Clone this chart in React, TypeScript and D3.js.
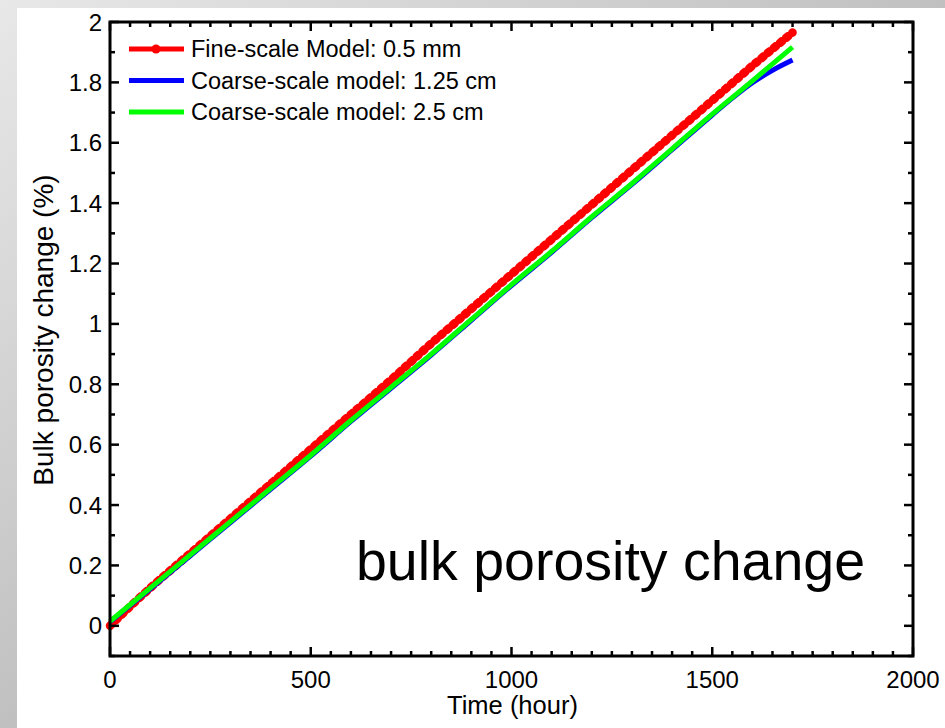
import React from 'react';
import * as d3 from 'd3';

// values
const hours = [0, 100, 200, 300, 400, 500, 600, 700, 800, 900, 1000, 1100, 1200, 1300, 1400, 1500, 1600, 1700];
const fineScale = [0, 0.125, 0.24, 0.355, 0.47, 0.585, 0.7, 0.815, 0.935, 1.05, 1.165, 1.28, 1.395, 1.51, 1.625, 1.74, 1.855, 1.965];
const coarse25 = [0.015, 0.125, 0.235, 0.345, 0.455, 0.565, 0.68, 0.79, 0.9, 1.015, 1.13, 1.24, 1.355, 1.465, 1.58, 1.695, 1.805, 1.917];
const coarse125Hours = [0, 100, 200, 300, 400, 500, 600, 700, 800, 900, 1000, 1100, 1200, 1300, 1400, 1500, 1550, 1600, 1650, 1700];
const coarse125 = [0.013, 0.122, 0.232, 0.342, 0.452, 0.562, 0.677, 0.787, 0.897, 1.012, 1.127, 1.237, 1.352, 1.462, 1.577, 1.692, 1.748, 1.799, 1.84, 1.874];

const legendLabels = ['Fine-scale Model: 0.5 mm', 'Coarse-scale model: 1.25 cm', 'Coarse-scale model: 2.5 cm'];
const legendColors = ['#ff0000', '#0000ff', '#00ff00'];

const xTicks = [0, 500, 1000, 1500, 2000];
const yTicks = [0, 0.2, 0.4, 0.6, 0.8, 1, 1.2, 1.4, 1.6, 1.8, 2];
const yTickLabels = ['0', '0.2', '0.4', '0.6', '0.8', '1', '1.2', '1.4', '1.6', '1.8', '2'];

const W = 945;
const H = 728;
const left = 110, right = 913, top = 22, bottom = 656;
const font = '"Liberation Sans", Arial, Helvetica, sans-serif';

export default function App() {
  const x = d3.scaleLinear().domain([0, 2000]).range([left, right]);
  const y = d3.scaleLinear().domain([-0.1, 2]).range([bottom, top]);

  const line = d3
    .line<[number, number]>()
    .x((d) => x(d[0]))
    .y((d) => y(d[1]))
    .curve(d3.curveMonotoneX);

  const redPath = line(hours.map((h, i) => [h, fineScale[i]]))!;
  const bluePath = line(coarse125Hours.map((h, i) => [h, coarse125[i]]))!;
  const greenPath = line(hours.map((h, i) => [h, coarse25[i]]))!;

  // minor ticks: every 50 h and every 0.1 %
  const xMinor = d3.range(0, 2001, 50).filter((v) => v % 500 !== 0);
  const yMinor = d3.range(-1, 21).filter((v) => v % 2 !== 0).map((v) => v / 10);

  const tickW = 2.5;

  return (
    <svg
      width={W}
      height={H}
      style={{ position: 'absolute', left: 0, top: 0, display: 'block' }}
      fontFamily={font}
    >
      <defs>
        <linearGradient id="bg" x1="0" y1="0" x2="1" y2="1">
          <stop offset="0" stopColor="#e8e8e8" />
          <stop offset="1" stopColor="#999999" />
        </linearGradient>
        <clipPath id="plotClip">
          <rect x={left - 6} y={top} width={right - left + 6} height={bottom - top} />
        </clipPath>
      </defs>
      <rect x={0} y={0} width={W} height={H} fill="url(#bg)" />
      <rect x={17} y={8} width={W - 17} height={H - 8} fill="#ffffff" />

      {/* data */}
      <g clipPath="url(#plotClip)" fill="none" strokeLinejoin="round">
        <path d={redPath} stroke="#ff0000" strokeWidth={5.5} />
        <path d={redPath} stroke="#ff0000" strokeWidth={8.5} strokeDasharray="3 5" strokeLinecap="round" />
        <path d={bluePath} stroke="#0000ff" strokeWidth={5} />
        <path d={greenPath} stroke="#00ff00" strokeWidth={5} />
      </g>

      {/* ticks */}
      <g stroke="#000" strokeWidth={tickW}>
        {xTicks.map((t) => (
          <g key={'xt' + t}>
            <line x1={x(t)} x2={x(t)} y1={bottom} y2={bottom - 9} />
            <line x1={x(t)} x2={x(t)} y1={top} y2={top + 9} />
          </g>
        ))}
        {xMinor.map((t) => (
          <g key={'xm' + t}>
            <line x1={x(t)} x2={x(t)} y1={bottom} y2={bottom - 5} />
            <line x1={x(t)} x2={x(t)} y1={top} y2={top + 5} />
          </g>
        ))}
        {yTicks.map((t) => (
          <g key={'yt' + t}>
            <line x1={left} x2={left + 9} y1={y(t)} y2={y(t)} />
            <line x1={right} x2={right - 9} y1={y(t)} y2={y(t)} />
          </g>
        ))}
        {yMinor.map((t) => (
          <g key={'ym' + t}>
            <line x1={left} x2={left + 5} y1={y(t)} y2={y(t)} />
            <line x1={right} x2={right - 5} y1={y(t)} y2={y(t)} />
          </g>
        ))}
      </g>

      {/* axes box */}
      <rect x={left} y={top} width={right - left} height={bottom - top} fill="none" stroke="#000" strokeWidth={3} />

      {/* tick labels */}
      <g fontSize={24} fill="#000">
        {xTicks.map((t) => (
          <text key={'xl' + t} x={x(t)} y={688} textAnchor="middle">
            {t}
          </text>
        ))}
        {yTicks.map((t, i) => (
          <text key={'yl' + t} x={102} y={y(t)} textAnchor="end" dominantBaseline="central">
            {yTickLabels[i]}
          </text>
        ))}
      </g>

      {/* axis titles */}
      <text x={(left + right) / 2 + 1} y={714} fontSize={25.5} textAnchor="middle">
        Time (hour)
      </text>
      <text transform="translate(53,330) rotate(-90)" fontSize={28} textAnchor="middle">
        Bulk porosity change (%)
      </text>

      {/* legend */}
      <g>
        {legendLabels.map((label, i) => {
          const ly = 49 + i * 31.5;
          return (
            <g key={label}>
              <line x1={129} x2={184} y1={ly} y2={ly} stroke={legendColors[i]} strokeWidth={5} />
              {i === 0 && <circle cx={156} cy={ly} r={4.5} fill="#ff0000" />}
              <text x={191} y={ly} fontSize={23.5} dominantBaseline="central">
                {label}
              </text>
            </g>
          );
        })}
      </g>

      {/* annotation */}
      <text x={356} y={580} fontSize={55.5} fill="#000">
        bulk porosity change
      </text>
    </svg>
  );
}
